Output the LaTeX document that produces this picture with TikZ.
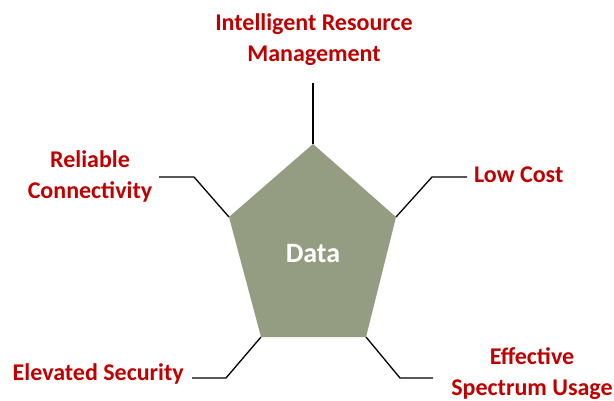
\documentclass[tikz,border=0pt]{standalone}
\usepackage{fontspec}
\setmainfont{Carlito}
\definecolor{datagreen}{RGB}{148,156,130}
\definecolor{labelred}{RGB}{192,0,0}
\tikzset{
    label text/.style={text=labelred, font=\fontsize{24}{31}\selectfont\bfseries, inner sep=0pt, align=center},
    spoke/.style={line width=1.3pt, black}
}
\begin{document}
\begin{tikzpicture}[x=1pt, y=-1pt]
    \useasboundingbox (0,0) rectangle (614,401);

    % Pentagon corners
    \coordinate (top) at (313,144);
    \coordinate (upright) at (396,217);
    \coordinate (lowright) at (366,337);
    \coordinate (lowleft) at (261,337);
    \coordinate (upleft) at (229,217);
    \fill [datagreen] (top) -- (upright) -- (lowright) -- (lowleft) -- (upleft) -- cycle;

    % Nodes
    \node [text=white, font=\fontsize{28}{34}\selectfont\bfseries, inner sep=0pt, anchor=base] (data) at (313,263) {Data};
    \node [label text] (resource) at (314,40) {Intelligent Resource\\Management};
    \node [label text] (reliable) at (90,176) {Reliable\\Connectivity};
    \node [label text, anchor=base west] (cost) at (474,183) {Low Cost};
    \node [label text, anchor=base east] (security) at (184,381) {Elevated Security};
    \node [label text] (spectrum) at (532,374) {Effective\\Spectrum Usage};

    % Bends and free ends
    \coordinate (resourceend) at (313,83);
    \coordinate (reliablebend) at (194,177);
    \coordinate (reliableend) at (159,177);
    \coordinate (costbend) at (432,177);
    \coordinate (costend) at (467,177);
    \coordinate (securitybend) at (226,378);
    \coordinate (securityend) at (192,378);
    \coordinate (spectrumbend) at (400,378);
    \coordinate (spectrumend) at (433,378);

    % Connections
    \draw [spoke] (top) -- (resourceend);
    \draw [spoke] (upleft) -- (reliablebend) -- (reliableend);
    \draw [spoke] (upright) -- (costbend) -- (costend);
    \draw [spoke] (lowleft) -- (securitybend) -- (securityend);
    \draw [spoke] (lowright) -- (spectrumbend) -- (spectrumend);
\end{tikzpicture}
\end{document}
